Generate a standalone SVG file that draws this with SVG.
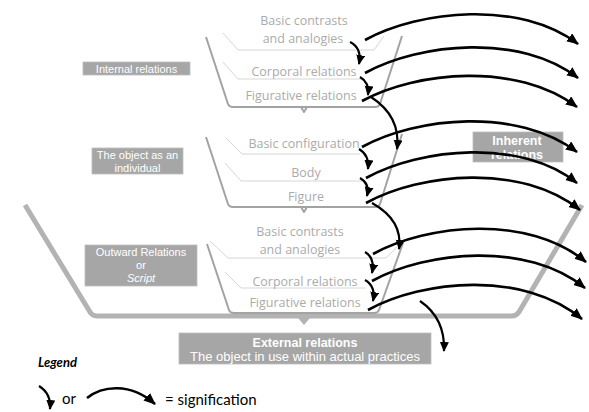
<svg xmlns="http://www.w3.org/2000/svg" width="589" height="412" viewBox="0 0 589 412">
  <defs>
    <marker id="head" markerUnits="userSpaceOnUse" markerWidth="13" markerHeight="11" refX="11" refY="5" orient="auto">
      <path d="M0,0 L12,5 L0,10 Z" fill="#000"/>
    </marker>
    <marker id="headSmall" markerUnits="userSpaceOnUse" markerWidth="11" markerHeight="10" refX="9" refY="4.5" orient="auto">
      <path d="M0,0 L10,4.5 L0,9 Z" fill="#000"/>
    </marker>
  </defs>
  <style>
    .frame { fill: none; stroke: #a3a3a3; stroke-width: 2; stroke-linejoin: round; }
    .outer { fill: none; stroke: #b3b3b3; stroke-width: 5; stroke-linejoin: round; }
    .bracket { fill: none; stroke: #d6d6d6; stroke-width: 1; }
    .item { font-family: "Open Sans", "DejaVu Sans", sans-serif; font-size: 12.5px; fill: #ababab; text-anchor: middle; }
    .box { fill: #a6a6a6; stroke: #bdbdbd; stroke-width: 0.8; }
    .boxtext { font-family: "Liberation Sans", Arial, sans-serif; font-size: 11px; fill: #ffffff; text-anchor: middle; }
    .boxbold { font-family: "Liberation Sans", Arial, sans-serif; font-size: 12.5px; font-weight: bold; fill: #ffffff; text-anchor: middle; }
    .boxline { font-family: "Liberation Sans", Arial, sans-serif; font-size: 13px; fill: #ffffff; text-anchor: middle; }
    .arc { fill: none; stroke: #000; stroke-width: 2.6; marker-end: url(#head); }
    .hop { fill: none; stroke: #000; stroke-width: 2.2; marker-end: url(#headSmall); }
    .legend { font-family: "Lato", "Liberation Sans", sans-serif; fill: #000; }
  </style>

  <!-- outer frame: external relations -->
  <g id="outer-frame">
    <path class="outer" d="M25,205 L90,312 Q92,316 97,316 L512,316 Q516,316 519,312 L582,205"/>
    <path d="M298,318 L304,325 L310,318 Z" fill="#b3b3b3"/>
  </g>

  <!-- internal relations -->
  <g id="internal-group">
    <path class="frame" d="M206,37 L228,104 Q229,107 233,107 L375,107 Q379,107 380,104 L402,36"/>
    <path d="M301,107 L304,112 L307,107" class="frame" stroke-width="1.5"/>
    <path class="bracket" d="M223,33 L238,50 L374,50 L384,36"/>
    <path class="bracket" d="M223,62 L238,79 L364,79"/>
    <text class="item" x="304" y="25.3">Basic contrasts</text>
    <text class="item" x="303" y="42.7">and analogies</text>
    <text class="item" x="304" y="76">Corporal relations</text>
    <text class="item" x="301" y="100">Figurative relations</text>
  </g>

  <!-- the object as an individual -->
  <g id="individual-group">
    <path class="frame" d="M206,137 L228,204 Q229,207 233,207 L375,207 Q379,207 380,204 L402,134"/>
    <path d="M301,207 L304,212 L307,207" class="frame" stroke-width="1.5"/>
    <path class="bracket" d="M226,138 L242,154 L360,154"/>
    <path class="bracket" d="M225,163 L241,181 L362,181"/>
    <text class="item" x="304" y="148">Basic configuration</text>
    <text class="item" x="306" y="177">Body</text>
    <text class="item" x="306" y="201">Figure</text>
  </g>

  <!-- outward relations -->
  <g id="outward-group">
    <path class="frame" d="M207,244 L229,310 Q230,313 234,313 L374,313 Q378,313 379,310 L403,243"/>
    <path class="bracket" d="M210,241 L228,258 L386,258 L397,247"/>
    <path class="bracket" d="M225,272 L241,288 L366,288"/>
    <text class="item" x="300" y="236.3">Basic contrasts</text>
    <text class="item" x="300" y="253.7">and analogies</text>
    <text class="item" x="305" y="286">Corporal relations</text>
    <text class="item" x="305" y="307">Figurative relations</text>
  </g>

  <!-- category labels -->
  <g id="label-internal">
    <rect class="box" x="83" y="62" width="107" height="13"/>
    <text class="boxtext" x="136.5" y="72.5" font-size="11.2">Internal relations</text>
  </g>
  <g id="label-individual">
    <rect class="box" x="92" y="148" width="91" height="26"/>
    <text class="boxtext" x="137.5" y="159" font-size="10.8">The object as an</text>
    <text class="boxtext" x="137.5" y="171.5" font-size="10.8">individual</text>
  </g>
  <g id="label-outward">
    <rect class="box" x="85" y="245" width="112" height="41"/>
    <text class="boxtext" x="141" y="256">Outward Relations</text>
    <text class="boxtext" x="141" y="269">or</text>
    <text class="boxtext" x="141" y="282" font-style="italic">Script</text>
  </g>
  <g id="label-inherent">
    <rect class="box" x="473" y="132" width="90" height="30"/>
    <text class="boxbold" x="517" y="145">Inherent</text>
    <text class="boxbold" x="517" y="159">relations</text>
  </g>
  <g id="label-external">
    <rect class="box" x="179" y="333" width="252" height="31"/>
    <text class="boxbold" x="305" y="346.5" font-size="13">External relations</text>
    <text class="boxline" x="305" y="361">The object in use within actual practices</text>
  </g>

  <!-- signification connectors -->
  <g id="connectors">
    <path class="arc" d="M365,40 C420,10 520,0 578,44"/>
    <path class="arc" d="M365,73 C420,43 520,33 578,78"/>
    <path class="arc" d="M362,101 C417,71 517,62 577,107"/>
    <path class="arc" d="M362,147 C417,117 517,107 577,152"/>
    <path class="arc" d="M366,178 C421,148 521,138 577,183"/>
    <path class="arc" d="M366,203 C421,173 521,163 580,210"/>
    <path class="arc" d="M373,254 C428,224 528,214 586,262"/>
    <path class="arc" d="M372,281 C427,251 527,241 585,288"/>
    <path class="arc" d="M368,310 C423,280 523,270 582,319"/>

    <path class="hop" d="M350,42 C358,46 361,54 359,64"/>
    <path class="hop" d="M360,77 C367,81 369,87 368,95"/>
    <path class="hop" d="M371,97 C388,108 400,125 397,149"/>
    <path class="hop" d="M359,149 C366,153 369,159 368,169"/>
    <path class="hop" d="M360,178 C367,182 369,188 367,196"/>
    <path class="hop" d="M372,203 C390,213 402,228 399,249"/>
    <path class="hop" d="M365,252 C372,256 374,263 372,273"/>
    <path class="hop" d="M365,280 C372,284 375,291 373,301"/>
    <path class="hop" d="M420,301 C436,312 445,328 444,351"/>
  </g>

  <!-- legend -->
  <g id="legend">
    <text class="legend" x="38" y="367" font-size="13" font-weight="bold" font-style="italic">Legend</text>
    <path class="hop" d="M39,386 C47,391 51,398 50,409"/>
    <text class="legend" x="62" y="404" font-size="15">or</text>
    <path class="arc" d="M87,398 C102,386 130,382 155,404"/>
    <text class="legend" x="165" y="405" font-size="15">= signification</text>
  </g>
</svg>
